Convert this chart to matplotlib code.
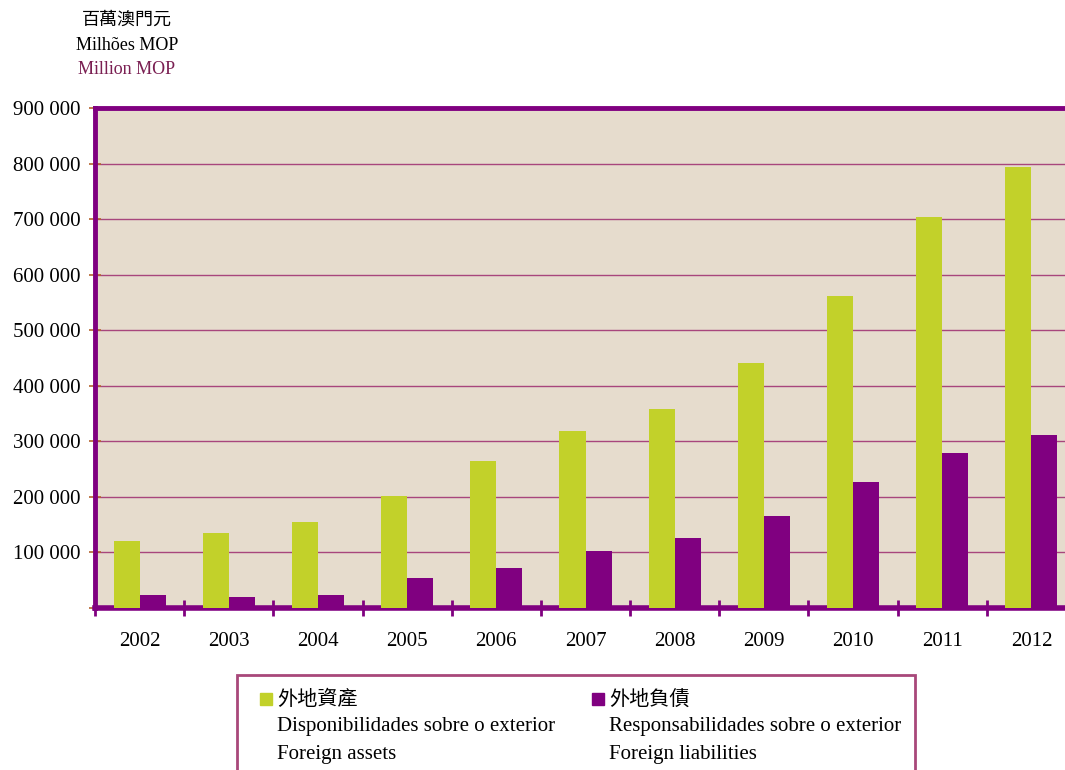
import numpy as np
import matplotlib
matplotlib.use("Agg")
import matplotlib.pyplot as plt
from matplotlib import patches
from matplotlib.ticker import FuncFormatter

# Foreign assets / liabilities, million MOP
years = ['2002', '2003', '2004', '2005', '2006', '2007', '2008', '2009', '2010', '2011', '2012']
assets = [121000, 135000, 155000, 202000, 265000, 319000, 358000, 441000, 562000, 704000, 794000]
liabilities = [23000, 20000, 23000, 54000, 72000, 103000, 126000, 166000, 227000, 279000, 312000]

green = '#c2d12a'
purple = '#800080'
grid_col = '#a8467c'

plt.rcParams['font.family'] = ['Liberation Serif', 'Noto Sans CJK TC']

fig = plt.figure(figsize=(10.65, 7.7), dpi=100)
ax = fig.add_axes([95/1065, 1-608/770, 981/1065, 500/770])
ax.set_facecolor('#e6dccd')

x = np.arange(len(years))
w = 0.292
ax.bar(x - w/2, assets, w, color=green, zorder=3)
ax.bar(x + w/2, liabilities, w, color=purple, zorder=3)

ax.set_xlim(-0.5, len(years) - 0.5)
ax.set_ylim(0, 900000)

# y axis
ax.set_yticks(np.arange(0, 900001, 100000))
ax.yaxis.set_major_formatter(FuncFormatter(lambda v, p: '' if v == 0 else f'{int(v):,}'.replace(',', ' ')))
ax.tick_params(axis='y', direction='inout', length=9, width=1.2, color='#b5652f', pad=6, labelsize=15)
ax.yaxis.grid(True, color=grid_col, linewidth=1.0, zorder=1)

# x axis: marks on category boundaries, labels at centres
ax.set_xticks(np.arange(-0.5, len(years)), minor=False)
ax.set_xticklabels([])
ax.set_xticks(x, minor=True)
ax.set_xticklabels(years, minor=True)
ax.tick_params(axis='x', which='major', direction='inout', length=12, width=2, color=purple)
ax.tick_params(axis='x', which='minor', length=0, pad=17, labelsize=15)

for side, lw in [('left', 3.5), ('top', 3.5), ('bottom', 4)]:
    ax.spines[side].set_color(purple)
    ax.spines[side].set_linewidth(lw)
ax.spines['right'].set_visible(False)

# unit header
fig.text(127/1065, 1-20/770, '百萬澳門元', ha='center', va='center', fontsize=13)
fig.text(127/1065, 1-45/770, 'Milhões MOP', ha='center', va='center', fontsize=13)
fig.text(127/1065, 1-69/770, 'Million MOP', ha='center', va='center', fontsize=13, color='#7a1f52')

# legend box
fig.patches.append(patches.Rectangle((237/1065, -0.05), 678/1065, 0.05 + 1-675/770,
                                     transform=fig.transFigure, fill=False,
                                     edgecolor='#a8487a', linewidth=2))
entries = [(260, green, '外地資產', 'Disponibilidades sobre o exterior', 'Foreign assets'),
           (592, purple, '外地負債', 'Responsabilidades sobre o exterior', 'Foreign liabilities')]
for px, col, zh, pt, en in entries:
    fig.patches.append(patches.Rectangle((px/1065, 1-705/770), 12/1065, 12/770,
                                         transform=fig.transFigure, color=col))
    fig.text((px + 17)/1065, 1-700/770, zh, va='center', fontsize=14.5)
    fig.text((px + 17)/1065, 1-727/770, pt, va='center', fontsize=15)
    fig.text((px + 17)/1065, 1-754/770, en, va='center', fontsize=15)

fig.savefig('out.png', dpi=100)
